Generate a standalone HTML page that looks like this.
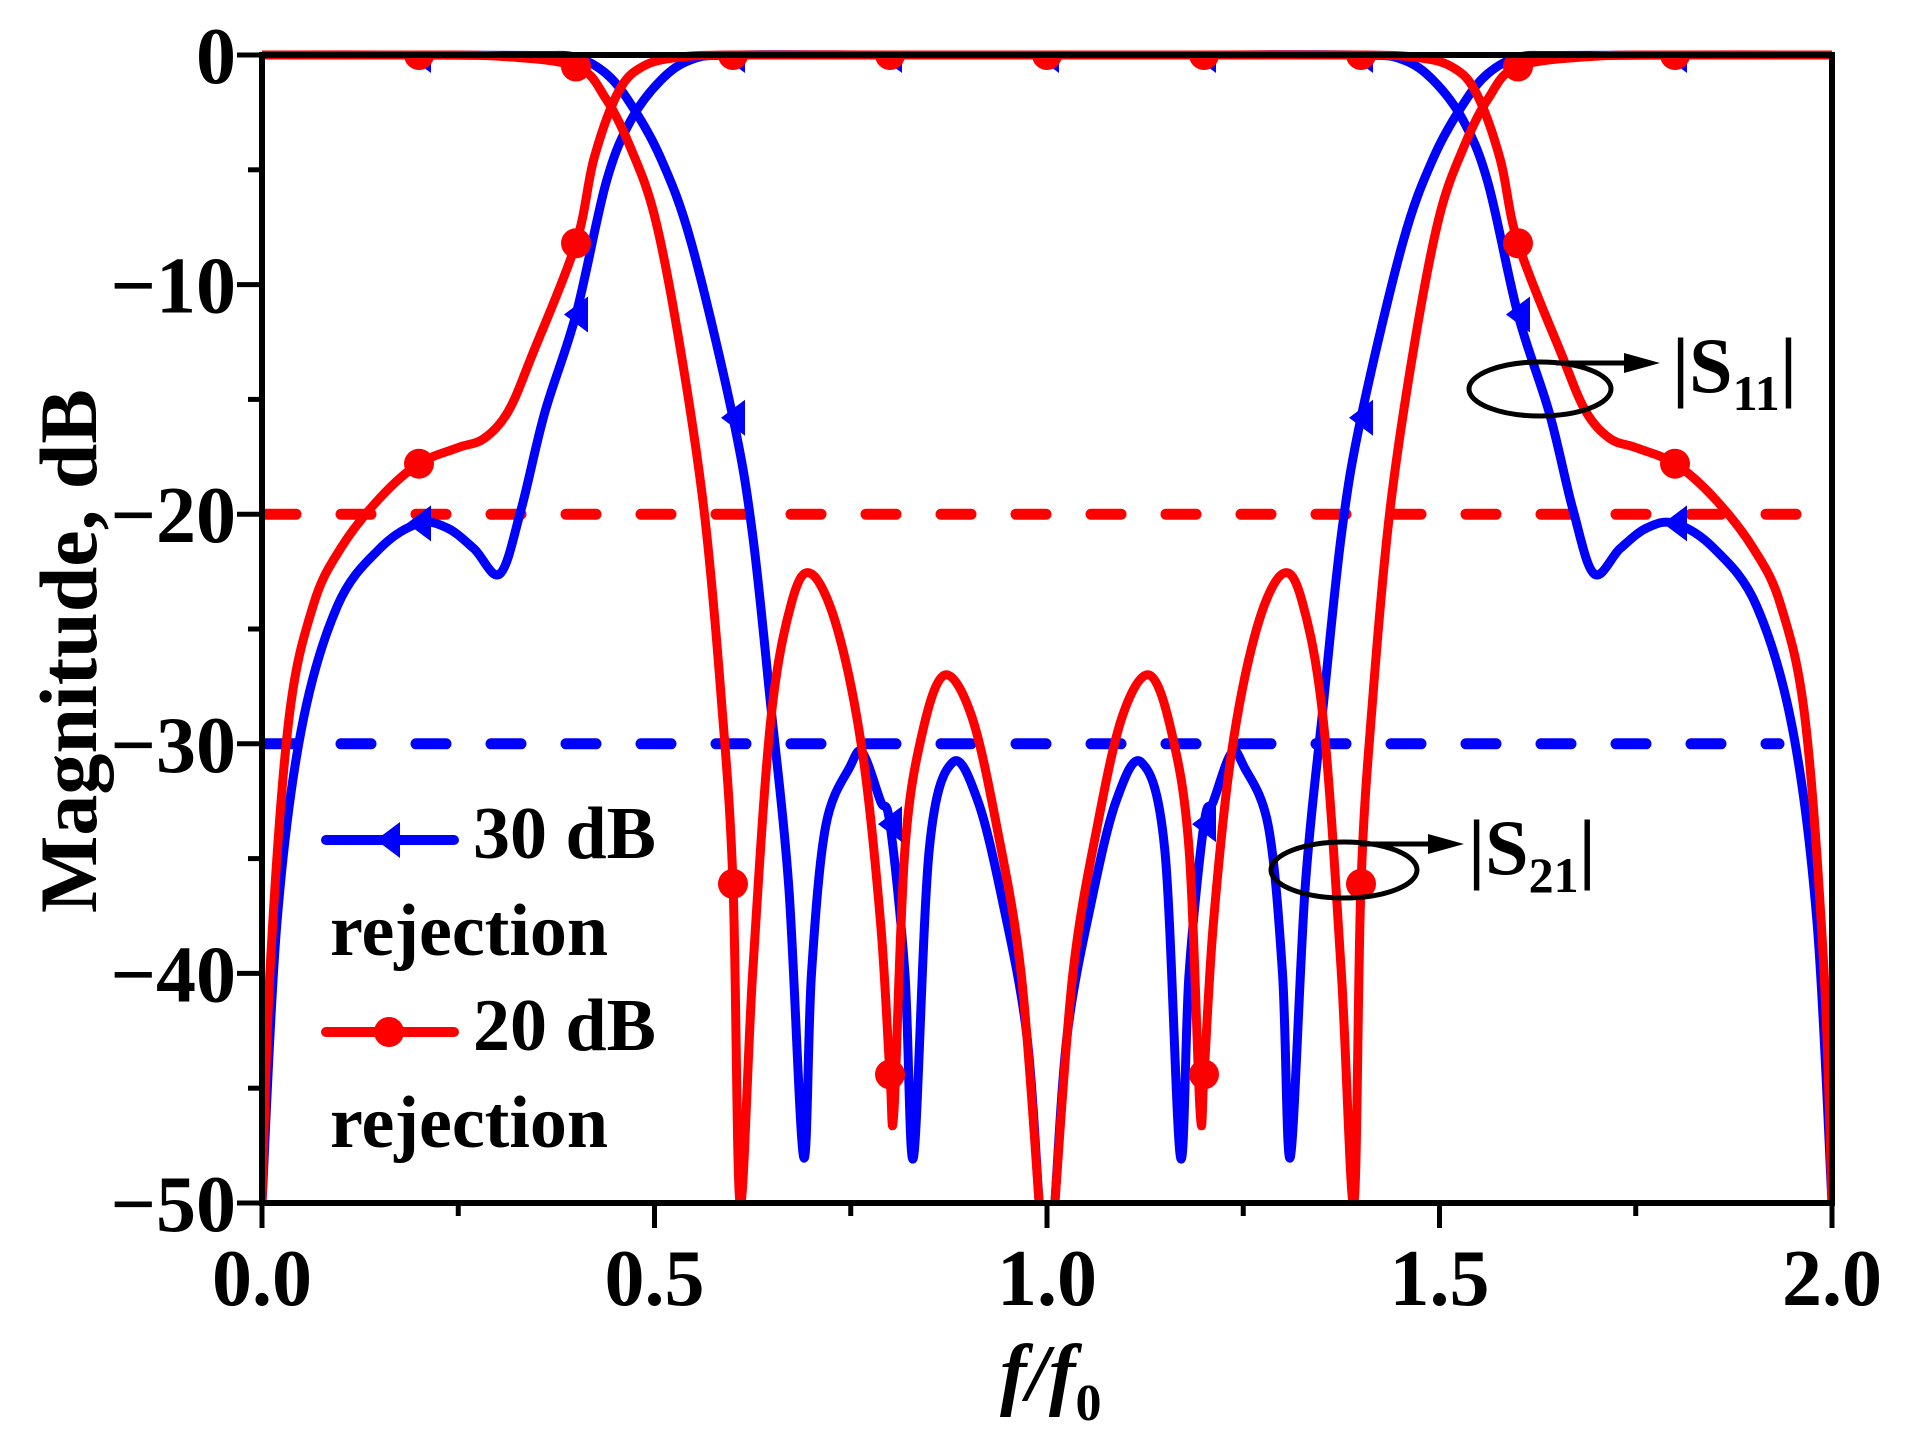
<!DOCTYPE html>
<html><head><meta charset="utf-8"><style>
html,body{margin:0;padding:0;background:#fff;}
svg{display:block;font-family:"Liberation Serif",serif;font-weight:bold;}
</style></head><body>
<svg id="chart" width="1906" height="1448" viewBox="0 0 1906 1448" xmlns="http://www.w3.org/2000/svg">
<defs><clipPath id="plotclip"><rect x="262" y="50" width="1570" height="1153"/></clipPath>
<clipPath id="markclip"><rect x="262" y="55" width="1570" height="1148"/></clipPath></defs>
<g id="dashes" clip-path="url(#plotclip)"></g>
<g id="curves" clip-path="url(#plotclip)"></g>
<g id="markers" clip-path="url(#markclip)"></g>
<rect x="262" y="55" width="1570" height="1148" fill="none" stroke="#000" stroke-width="6"/>
<g id="axes"></g>
<text transform="translate(96,651) rotate(-90)" text-anchor="middle" font-size="82">Magnitude, dB</text>
<text x="1000" y="1400" font-size="80" font-style="italic">f/f<tspan font-size="52" dy="20" font-style="normal">0</tspan></text>
<g>
 <line x1="326" y1="840" x2="454" y2="840" stroke="#0000ff" stroke-width="10" stroke-linecap="round"/>
 <polygon points="376,840 400,822 400,858" fill="#0000ff"/>
 <text x="473" y="858" font-size="74">30 dB</text>
 <text x="330" y="955" font-size="74">rejection</text>
 <line x1="326" y1="1032" x2="454" y2="1032" stroke="#ff0000" stroke-width="10" stroke-linecap="round"/>
 <circle cx="389" cy="1032" r="15" fill="#ff0000"/>
 <text x="473" y="1050" font-size="74">20 dB</text>
 <text x="330" y="1147" font-size="74">rejection</text>
</g>
<g>
 <ellipse cx="1540" cy="389" rx="71" ry="27" fill="none" stroke="#000" stroke-width="5"/>
 <line x1="1556" y1="363" x2="1630" y2="363" stroke="#000" stroke-width="5"/>
 <polygon points="1624,353 1660,363 1624,373" fill="#000"/>
 <text x="1672" y="392" font-size="78">|S<tspan font-size="50" dy="18">11</tspan><tspan dy="-18">|</tspan></text>
</g>
<g>
 <ellipse cx="1344" cy="870" rx="73" ry="28" fill="none" stroke="#000" stroke-width="5"/>
 <line x1="1360" y1="844" x2="1435" y2="844" stroke="#000" stroke-width="5"/>
 <polygon points="1428,834 1464,844 1428,854" fill="#000"/>
 <text x="1468" y="874" font-size="78">|S<tspan font-size="50" dy="18">21</tspan><tspan dy="-18">|</tspan></text>
</g>
</svg>
<script>
// ---- data ----
const xTicks = [0.0, 0.5, 1.0, 1.5, 2.0];
const xTickLabels = ["0.0", "0.5", "1.0", "1.5", "2.0"];
const yTicks = [0, -10, -20, -30, -40, -50];
const yTickLabels = ["0", "\u221210", "\u221220", "\u221230", "\u221240", "\u221250"];
const rejectionLevels = [-20, -30];
const markerFreqs = [0.2, 0.4, 0.6, 0.8, 1.0, 1.2, 1.4, 1.6, 1.8];

const red11F = [0,0.01,0.034,0.065,0.1,0.15,0.2,0.25,0.283,0.314,0.345,0.4,0.423,0.454,0.485,0.53,0.6,0.8,1.0,1.2,1.4,1.47,1.515,1.546,1.577,1.6,1.655,1.686,1.717,1.75,1.8,1.85,1.9,1.935,1.966,1.99,2];
const red11V = [-50,-40,-29,-24,-21.5,-19.3,-17.8,-17.1,-16.7,-15.5,-13,-8.2,-4.5,-1.6,-0.5,-0.1,0,0,0,0,0,-0.1,-0.5,-1.6,-4.5,-8.2,-13,-15.5,-16.7,-17.1,-17.8,-19.3,-21.5,-24,-29,-40,-50];

const red21F = [0,0.2,0.3,0.4,0.438,0.469,0.5,0.531,0.563,0.585,0.6,0.609,0.625,0.648,0.675,0.7,0.733,0.765,0.788,0.8,0.805,0.819,0.842,0.87,0.904,0.936,0.967,0.99,1.0,1.01,1.033,1.064,1.096,1.13,1.158,1.181,1.195,1.2,1.212,1.235,1.267,1.3,1.325,1.352,1.375,1.391,1.4,1.415,1.437,1.469,1.5,1.531,1.562,1.6,1.7,1.8,2];
const red21V = [0,0,-0.05,-0.5,-1.9,-4,-7,-12.4,-19.8,-28,-36.1,-50,-40,-29,-23.8,-22.6,-25,-30.4,-37.8,-44.4,-46,-34.6,-29.4,-27,-28.8,-33.6,-40,-50,-55,-50,-40,-33.6,-28.8,-27,-29.4,-34.6,-46,-44.4,-37.8,-30.4,-25,-22.6,-23.8,-29,-40,-50,-36.1,-28,-19.8,-12.4,-7,-4,-1.9,-0.5,-0.05,0,0];

const blue11F = [0,0.019,0.05,0.096,0.15,0.2,0.236,0.27,0.303,0.33,0.36,0.4,0.438,0.469,0.508,0.547,0.6,0.8,1.0,1.2,1.4,1.453,1.492,1.531,1.562,1.6,1.64,1.67,1.697,1.73,1.764,1.8,1.85,1.904,1.95,1.981,2];
const blue11V = [-50,-37.8,-29.4,-24,-21.5,-20.4,-20.6,-21.5,-22.6,-19.8,-15.6,-11.3,-5.6,-2.9,-1.1,-0.2,0,0,0,0,0,-0.2,-1.1,-2.9,-5.6,-11.3,-15.6,-19.8,-22.6,-21.5,-20.6,-20.4,-21.5,-24,-29.4,-37.8,-50];

const blue21F = [0,0.2,0.35,0.4,0.438,0.469,0.508,0.547,0.6,0.625,0.648,0.671,0.69,0.7,0.718,0.749,0.765,0.788,0.8,0.819,0.83,0.85,0.88,0.912,0.943,0.974,0.99,1.0,1.01,1.026,1.057,1.088,1.12,1.15,1.17,1.181,1.2,1.212,1.235,1.251,1.282,1.3,1.31,1.329,1.352,1.375,1.4,1.453,1.492,1.531,1.562,1.6,1.65,1.8,2];
const blue21V = [0,0,-0.02,-0.1,-0.8,-2.1,-4.5,-8.2,-15.8,-20.9,-28.3,-36.2,-48,-40,-33.6,-31,-30.4,-32.5,-33.5,-40,-48,-34.6,-30.8,-32.5,-36.8,-42.6,-50,-55,-50,-42.6,-36.8,-32.5,-30.8,-34.6,-48,-40,-33.5,-32.5,-30.4,-31,-33.6,-40,-48,-36.2,-28.3,-20.9,-15.8,-8.2,-4.5,-2.1,-0.8,-0.1,-0.02,0,0];

// ---- axes ----
const X0 = 262, X1 = 1832, Y0 = 55, Y1 = 1203;
function xs(f){ return X0 + (f - 0) / 2 * (X1 - X0); }
function ys(v){ return Y0 + (0 - v) / 50 * (Y1 - Y0); }
const NS = "http://www.w3.org/2000/svg";
function mk(tag, attrs, parent){
  const e = document.createElementNS(NS, tag);
  for (const k in attrs) e.setAttribute(k, attrs[k]);
  parent.appendChild(e);
  return e;
}
const axes = document.getElementById('axes');
xTicks.forEach((t, i) => {
  const l = mk('line', {x1: xs(t), x2: xs(t), y1: Y1, y2: Y1 + 25, stroke: '#000', 'stroke-width': 5}, axes);
  
  
  const tx = mk('text', {x: xs(t), y: 1305, 'text-anchor': 'middle', 'font-size': 80}, axes);
  tx.textContent = xTickLabels[i];
  
  
  if (i < xTicks.length - 1) {
    const m = mk('line', {x1: xs(t + 0.25), x2: xs(t + 0.25), y1: Y1, y2: Y1 + 13, stroke: '#000', 'stroke-width': 5}, axes);
    
    
  }
});
yTicks.forEach((t, i) => {
  const l = mk('line', {x1: X0 - 25, x2: X0, y1: ys(t), y2: ys(t), stroke: '#000', 'stroke-width': 5}, axes);
  
  
  const tx = mk('text', {x: 236, y: ys(t) + 28, 'text-anchor': 'end', 'font-size': 80}, axes);
  tx.textContent = yTickLabels[i];
  
  
  if (i < yTicks.length - 1) {
    const m = mk('line', {x1: X0 - 14, x2: X0, y1: ys(t - 5), y2: ys(t - 5), stroke: '#000', 'stroke-width': 5}, axes);
    
    
  }
});

// ---- rejection lines ----
const dashes = document.getElementById('dashes');
const dRed = mk('line', {x1: X0 + 4, x2: X1, y1: ys(rejectionLevels[0]), y2: ys(rejectionLevels[0]), stroke: '#ff0000', 'stroke-width': 11, 'stroke-dasharray': '30 45', 'stroke-linecap': 'round'}, dashes);


const dBlue = mk('line', {x1: X0 + 4, x2: 1779, y1: ys(rejectionLevels[1]), y2: ys(rejectionLevels[1]), stroke: '#0000ff', 'stroke-width': 11, 'stroke-dasharray': '30 45', 'stroke-linecap': 'round'}, dashes);



// ---- curves ----
function pathFor(F, V){
  const p = F.map((f, i) => [xs(f), ys(V[i])]);
  let d = 'M' + p[0][0] + ',' + p[0][1];
  for (let i = 0; i < p.length - 1; i++) {
    const a = p[Math.max(i - 1, 0)], b = p[i], c = p[i + 1], e = p[Math.min(i + 2, p.length - 1)];
    const c1 = [b[0] + (c[0] - a[0]) / 6, b[1] + (c[1] - a[1]) / 6];
    const c2 = [c[0] - (e[0] - b[0]) / 6, c[1] - (e[1] - b[1]) / 6];
    d += ' C' + c1[0] + ',' + c1[1] + ' ' + c2[0] + ',' + c2[1] + ' ' + c[0] + ',' + c[1];
  }
  return d;
}
const curves = document.getElementById('curves');
const cB11 = mk('path', {d: pathFor(blue11F, blue11V), fill: 'none', stroke: '#0000ff', 'stroke-width': 9, 'stroke-linejoin': 'round'}, curves);


const cB21 = mk('path', {d: pathFor(blue21F, blue21V), fill: 'none', stroke: '#0000ff', 'stroke-width': 9, 'stroke-linejoin': 'round'}, curves);


const cR11 = mk('path', {d: pathFor(red11F, red11V), fill: 'none', stroke: '#ff0000', 'stroke-width': 9, 'stroke-linejoin': 'round'}, curves);


const cR21 = mk('path', {d: pathFor(red21F, red21V), fill: 'none', stroke: '#ff0000', 'stroke-width': 9, 'stroke-linejoin': 'round'}, curves);



// ---- markers ----
const markers = document.getElementById('markers');
function valAt(F, V, f){
  for (let i = 0; i < F.length; i++) if (Math.abs(F[i] - f) < 1e-6) return V[i];
  return null;
}
function addTri(F, V){
  markerFreqs.forEach(f => {
    const v = valAt(F, V, f);
    if (v === null || v < -50) return;
    const x = xs(f), y = ys(v);
    const t = mk('polygon', {points: (x - 12) + ',' + y + ' ' + (x + 12) + ',' + (y - 18) + ' ' + (x + 12) + ',' + (y + 18), fill: '#0000ff'}, markers);
    
    
  });
}
function addCirc(F, V){
  markerFreqs.forEach(f => {
    const v = valAt(F, V, f);
    if (v === null || v < -50) return;
    const c = mk('circle', {cx: xs(f), cy: ys(v), r: 15, fill: '#ff0000'}, markers);
    
    
  });
}
addTri(blue11F, blue11V);
addTri(blue21F, blue21V);
addCirc(red11F, red11V);
addCirc(red21F, red21V);
</script>
</body></html>
